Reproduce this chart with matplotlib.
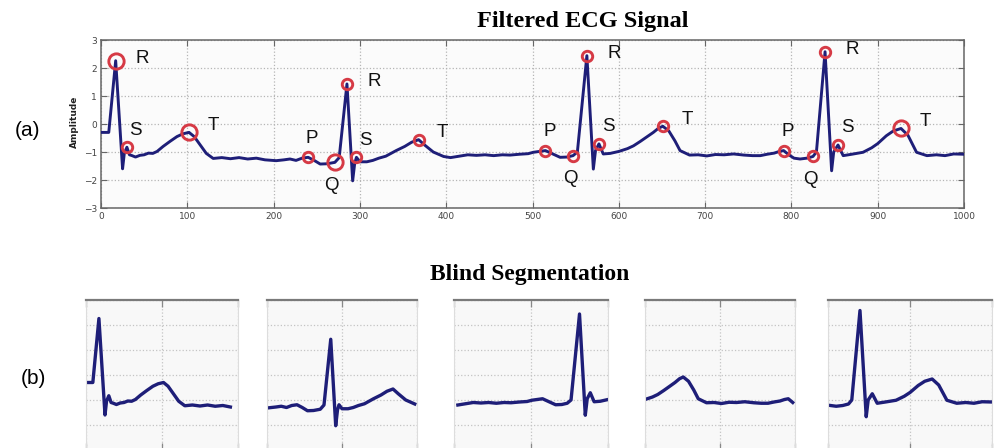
import numpy as np
import matplotlib
matplotlib.use('Agg')
import matplotlib.pyplot as plt

# ECG filtrado
ecg_x = [0, 9, 17, 25, 27, 30, 33, 36, 40, 45, 50, 55, 60, 65, 72, 80, 88, 95, 102,
         108, 115, 122, 130, 140, 150, 160, 170, 180, 190, 203, 212, 219, 226, 233,
         240, 247, 254, 262, 271, 276, 285, 291.6, 294, 296, 300, 308, 315, 322, 330,
         342, 352, 360, 368, 375, 385, 397, 405, 415, 425, 435, 445, 455, 465, 474,
         485, 495, 501, 508, 515, 522, 532, 540, 547, 552, 563, 570.5, 573, 577, 582,
         590, 600, 610, 617, 625, 633, 640, 646, 651, 658, 665, 671, 682, 692, 702,
         712, 722, 733, 745, 755, 764, 772, 780, 786, 791, 797, 803, 810, 818, 825,
         829, 839, 846.6, 849, 854, 860, 870, 883, 893, 900, 910, 918, 927, 935, 945,
         957, 968, 978, 988, 1000]
ecg_y = [-0.30, -0.30, 2.26, -1.60, -1.05, -0.83, -1.10, -1.13, -1.18, -1.12, -1.10,
         -1.04, -1.05, -0.98, -0.80, -0.62, -0.45, -0.35, -0.30,
         -0.45, -0.75, -1.05, -1.23, -1.20, -1.24, -1.20, -1.25, -1.22, -1.28, -1.31,
         -1.28, -1.25, -1.30, -1.22,
         -1.19, -1.30, -1.43, -1.42, -1.37, -1.20, 1.43, -2.03, -1.40, -1.19, -1.35,
         -1.35, -1.30, -1.22, -1.15,
         -0.95, -0.80, -0.65, -0.56, -0.75, -1.00, -1.16, -1.20, -1.15, -1.10, -1.12,
         -1.10, -1.13, -1.10, -1.11,
         -1.08, -1.06, -1.01, -0.98, -0.95, -1.05, -1.19, -1.18, -1.13, -1.00, 2.44,
         -1.61, -0.95, -0.71, -1.07,
         -1.05, -0.98, -0.88, -0.78, -0.62, -0.45, -0.30, -0.15, -0.08, -0.25, -0.60,
         -0.95, -1.11, -1.10, -1.14,
         -1.09, -1.10, -1.07, -1.11, -1.13, -1.13, -1.08, -1.04, -0.98, -0.95, -1.10,
         -1.22, -1.25, -1.22, -1.16,
         -1.00, 2.58, -1.67, -1.00, -0.75, -1.13, -1.08, -1.01, -0.85, -0.70, -0.42,
         -0.25, -0.16, -0.40, -1.01,
         -1.13, -1.10, -1.13, -1.07, -1.08]

# puntos característicos
p_x = [240, 515, 791]
p_y = [-1.19, -0.95, -0.95]
q_x = [271, 547, 825]
q_y = [-1.37, -1.13, -1.16]
r_x = [17, 285, 563, 839]
r_y = [2.26, 1.43, 2.44, 2.58]
s_x = [30, 296, 577, 854]
s_y = [-0.83, -1.19, -0.71, -0.75]
t_x = [102, 368, 651, 927]
t_y = [-0.30, -0.56, -0.08, -0.16]

# ventanas de la segmentación ciega
windows = [(0, 200), (200, 400), (400, 600), (600, 800), (800, 1000)]

W, H = 996, 448
fig = plt.figure(figsize=(W / 100, H / 100), dpi=100)
fig.patch.set_facecolor('white')

line_col = '#1e1e78'
red = '#d63a45'
grid_kw = dict(color='#b5b5b5', linestyle=':', linewidth=0.9)


def px_axes(l, r, top, bottom):
    return fig.add_axes([l / W, (H - bottom) / H, (r - l) / W, (bottom - top) / H])


# (a) señal completa
ax = px_axes(101, 964, 40, 208)
ax.set_facecolor('#fbfbfb')
ax.plot(ecg_x, ecg_y, color=line_col, linewidth=2.1, solid_joinstyle='round', zorder=3)
ax.set_xlim(0, 1000)
ax.set_ylim(-3, 3)
ax.set_xticks(range(0, 1001, 100))
ax.set_yticks(range(-3, 4))
ax.grid(True, **grid_kw)
ax.tick_params(direction='in', top=True, right=True, length=4, width=0.8,
               labelsize=6.5, labelcolor='#444444', color='#666666', pad=3)
for sp in ax.spines.values():
    sp.set_color('#666666')
    sp.set_linewidth(1.1)

big = {('R', 0), ('T', 0), ('T', 3), ('Q', 0)}
groups = [('P', p_x, p_y, (4, 19)), ('Q', q_x, q_y, (-3, -23)),
          ('R', r_x, r_y, (27, 2)), ('S', s_x, s_y, (9, 17)),
          ('T', t_x, t_y, (24, 7))]
for name, xs, ys, off in groups:
    for i, (x, y) in enumerate(zip(xs, ys)):
        ms = 11 if (name, i) in big else 7.5
        ax.plot(x, y, 'o', ms=ms, mfc='none', mec=red, mew=2.1, zorder=4)
        ax.annotate(name, (x, y), xytext=off, textcoords='offset pixels',
                    ha='center', va='center', fontsize=13.5,
                    family='Liberation Sans', color='#111111', zorder=5)

fig.text(583 / W, 1 - 22 / H, 'Filtered ECG Signal', ha='center', va='center',
         family='Liberation Serif', weight='bold', fontsize=17.5)
fig.text(74 / W, 1 - 122 / H, 'Amplitude', rotation=90, ha='center', va='center',
         fontsize=6.5, weight='bold', color='#222222')
fig.text(27 / W, 1 - 131 / H, '(a)', ha='center', va='center', fontsize=15,
         family='Liberation Sans')

# (b) segmentos
fig.text(530 / W, 1 - 274 / H, 'Blind Segmentation', ha='center', va='center',
         family='Liberation Serif', weight='bold', fontsize=17)
fig.text(33 / W, 1 - 378 / H, '(b)', ha='center', va='center', fontsize=15,
         family='Liberation Sans')

panel_px = [(86, 238), (267, 417), (454, 608), (645, 795), (828, 992)]
ex = np.array(ecg_x)
ey = np.array(ecg_y)
for (l, r), (a, b) in zip(panel_px, windows):
    bx = px_axes(l, r, 300, 450)
    bx.set_facecolor('#f8f8f8')
    m = (ex >= a) & (ex <= b)
    bx.plot(ex[m], ey[m], color=line_col, linewidth=2.4, solid_joinstyle='round')
    bx.set_xlim(a, b)
    bx.set_ylim(-3, 3)
    bx.set_xticks([a, (a + b) / 2, b])
    bx.set_yticks(range(-3, 4))
    bx.set_xticklabels([])
    bx.set_yticklabels([])
    bx.grid(True, color='#c4c4c4', linestyle=':', linewidth=0.9)
    bx.tick_params(direction='in', top=True, right=False, left=False,
                   length=5, width=0.9, color='#888888')
    bx.spines['top'].set_color('#7a7a7a')
    bx.spines['top'].set_linewidth(1.6)
    for s in ['left', 'right', 'bottom']:
        bx.spines[s].set_color('#dddddd')
        bx.spines[s].set_linewidth(0.8)

fig.savefig('out.png', dpi=100)
